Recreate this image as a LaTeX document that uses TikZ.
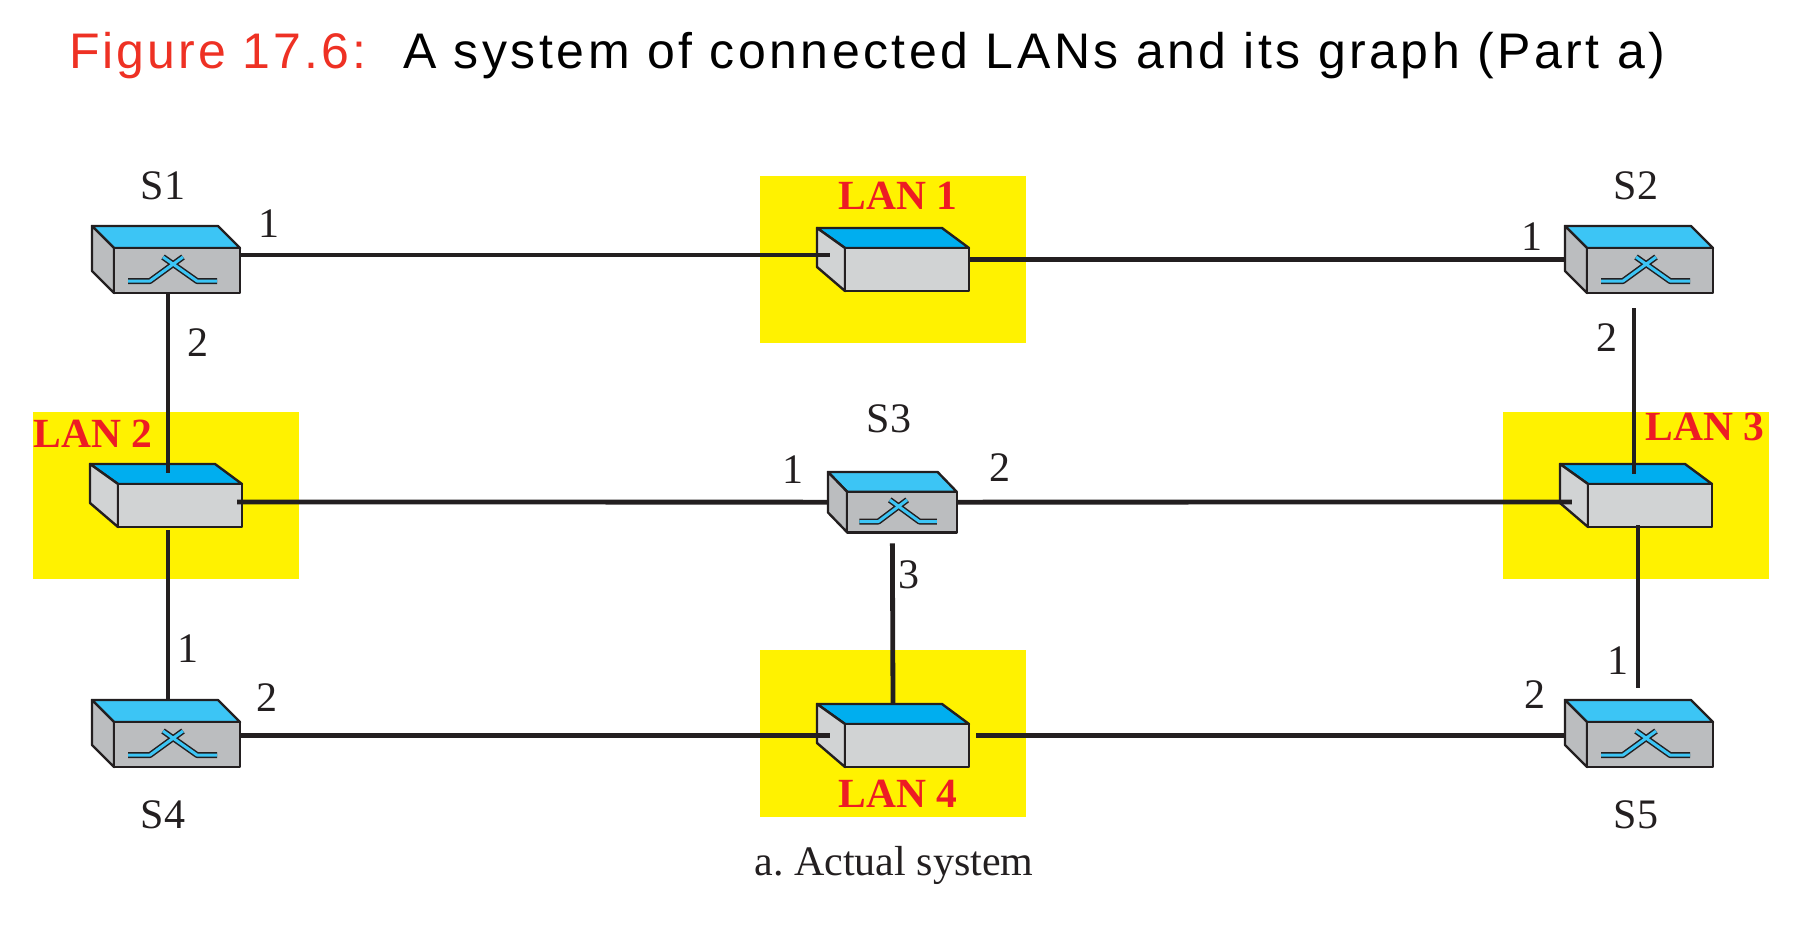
\documentclass[tikz,border=0pt]{standalone}
\usepackage{fontspec}
\setmainfont{Liberation Serif}
\newfontfamily\titlefont[LetterSpace=6]{Liberation Sans}
\newfontfamily\titlefontb[LetterSpace=7]{Liberation Sans}
\definecolor{lanyellow}{HTML}{FFF200}
\definecolor{lanred}{HTML}{ED1C24}
\definecolor{titlered}{HTML}{EE3124}
\definecolor{edgeblack}{HTML}{231F20}
\definecolor{switchtop}{HTML}{3CC5F5}
\definecolor{switchside}{HTML}{BBBDBF}
\definecolor{hubtop}{HTML}{00AEEF}
\definecolor{hubside}{HTML}{D1D3D4}
\tikzset{
		% one box for the whole device, connectors end on it
		switch box/.style={inner sep=0,minimum width=148,minimum height=67,transform shape},
		hub box/.style={inner sep=0,minimum width=152,minimum height=63},
		face/.style={draw=edgeblack,line width=2.4,line join=round},
		link/.style={draw=edgeblack,line width=4.8},
		lan area/.style={fill=lanyellow,inner sep=0},
		lan label/.style={font=\bfseries\fontsize{41.5}{41.5}\selectfont,text=lanred,inner sep=0},
		device label/.style={font=\fontsize{42}{42}\selectfont,text=edgeblack,inner sep=0},
		pics/switch/.style={code={
			\node [switch box] (-box) at (74,33.5) {};
			\draw [face,fill=switchtop] (0,0) -- (126,0) -- (148,22) -- (22,22) -- cycle;
			\draw [face,fill=switchside] (0,0) -- (22,22) -- (22,67) -- (0,45) -- cycle;
			\draw [face,fill=switchside] (22,22) rectangle (148,67);
			\draw [draw=edgeblack,line width=6,line join=round] (36,55) -- (58,55) -- (91,31) (71,31) -- (105,55) -- (125,55);
			\draw [draw=switchtop,line width=3,line join=round] (36,55) -- (58,55) -- (91,31) (71,31) -- (105,55) -- (125,55);
		}},
		pics/hub/.style={code={
			\node [hub box] (-box) at (76,31.5) {};
			\draw [face,fill=hubtop] (0,0) -- (125,0) -- (152,20) -- (28,20) -- cycle;
			\draw [face,fill=hubside] (0,0) -- (28,20) -- (28,63) -- (0,39) -- cycle;
			\draw [face,fill=hubside] (28,20) rectangle (152,63);
		}}
	}
\begin{document}
\frenchspacing
\begin{tikzpicture}[x=1pt,y=-1pt]
		\useasboundingbox (0,0) rectangle (1804,926);
		\node [font=\titlefont\fontsize{50}{50}\selectfont,text=titlered,inner sep=0,anchor=base west] (title-a) at (69,68) {Figure 17.6:};
		\node [font=\titlefontb\fontsize{50}{50}\selectfont,text=black,inner sep=0,anchor=base west] (title-b) at (403,68) {A system of connected LANs and its graph (Part a)};
		% yellow areas
		\foreach \name/\x/\y in {1/760/176,2/33/412,3/1503/412,4/760/650}
			\node [lan area,anchor=north west,minimum width=266,minimum height=167] (area\name) at (\x,\y) {};
		% devices
		\pic (S1) at (92,226) {switch};
		\pic (S2) at (1565,226) {switch};
		\pic [xscale=.87,yscale=.9] (S3) at (828,472) {switch};
		\pic (S4) at (92,700) {switch};
		\pic (S5) at (1565,700) {switch};
		\pic (LAN1) at (817,228) {hub};
		\pic (LAN2) at (90,464) {hub};
		\pic (LAN3) at (1560,464) {hub};
		\pic (LAN4) at (817,704) {hub};
		% connectors
		\draw [link] ([yshift=4.5]S1-box.east) -- ([xshift=13,yshift=4.5]LAN1-box.west);
		\draw [link] (LAN1-box.east) -- (S2-box.west);
		\draw [link] ([xshift=2]S1-box.south) -- ([xshift=2,yshift=-9]LAN2-box.north);
		\draw [link] ([xshift=-5,yshift=-6.5]LAN2-box.east) -- (S3-box.west);
		\draw [link] (S3-box.east) -- ([xshift=12,yshift=-6.5]LAN3-box.west);
		\draw [link] ([yshift=-11]S3-box.south) -- ([yshift=-1]LAN4-box.north);
		\draw [link] ([xshift=2,yshift=-3]LAN2-box.south) -- ([xshift=2]S4-box.north);
		\draw [link] ([xshift=-5,yshift=-15]S2-box.south) -- ([xshift=-2,yshift=-10]LAN3-box.north);
		\draw [link] ([xshift=2,yshift=2]LAN3-box.south) -- ([xshift=-1,yshift=12]S5-box.north);
		\draw [link] ([yshift=-2]S4-box.east) -- ([xshift=13]LAN4-box.west);
		\draw [link] ([xshift=7]LAN4-box.east) -- ([yshift=-2]S5-box.west);
		% labels
		\foreach \name/\x/\y in {1/898/196,2/93/434,3/1705/427,4/898/794}
			\node [lan label] (lan-text\name) at (\x,\y) {LAN \name};
		\foreach \name/\x/\y/\txt in {a/163/186/S1,b/1636/186/S2,c/889/419/S3,d/163/815/S4,e/1636/815/S5,
			f/269/224/1,g/198/343/2,h/1532/237/1,i/1607/338/2,j/793/470/1,k/1000/468/2,l/909/575/3,
			m/267/698/2,n/188/649/1,o/1535/695/2,p/1618/661/1}
			\node [device label] (port-\name) at (\x,\y) {\txt};
		\node [device label] (caption) at (894,865) {a. Actual system};
	\end{tikzpicture}
\end{document}
